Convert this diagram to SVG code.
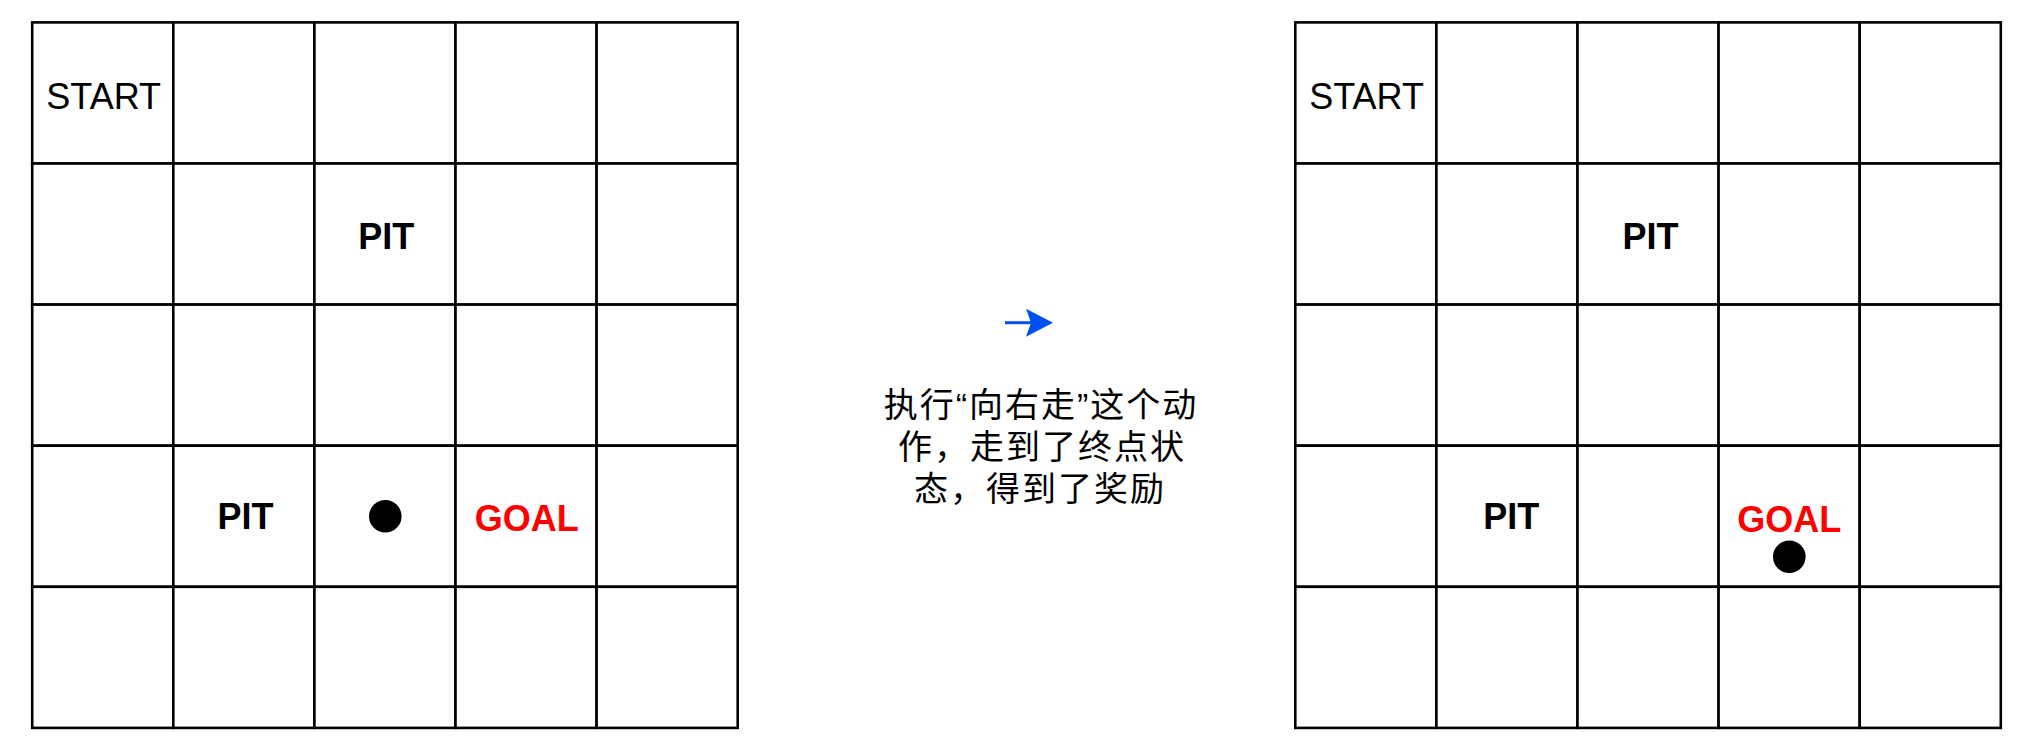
<svg xmlns="http://www.w3.org/2000/svg" width="2024" height="754" viewBox="0 0 2024 754">
<defs>
<style>
.cell{fill:#fff;stroke:#000;stroke-width:2.6}
.lbl{font-family:"Liberation Sans",Arial,sans-serif;font-size:36px;fill:#000;text-anchor:middle}
.bold{font-weight:bold;font-size:36px}
.goal{fill:#ff0000}
.agent{fill:#000}
.cn{font-family:"Liberation Sans","Noto Sans CJK SC",sans-serif;font-size:34px;font-weight:400;letter-spacing:2px;fill:#000;text-anchor:middle}
.conn{stroke:#0050ef;stroke-width:3;fill:none}
</style>
<marker id="arrowhead" markerUnits="userSpaceOnUse" viewBox="0 0 27 28" markerWidth="27" markerHeight="28" refX="5" refY="14" orient="auto">
<path d="M0,0 L27,14 L0,28 L5,14 Z" fill="#0050ef"/>
</marker>
</defs>
<rect width="2024" height="754" fill="#fff"/>

<g id="grid-before">
<rect class="cell" x="32.2" y="22.4" width="141.1" height="141.1"/>
<rect class="cell" x="173.3" y="22.4" width="141.1" height="141.1"/>
<rect class="cell" x="314.4" y="22.4" width="141.1" height="141.1"/>
<rect class="cell" x="455.5" y="22.4" width="141.1" height="141.1"/>
<rect class="cell" x="596.6" y="22.4" width="141.1" height="141.1"/>
<rect class="cell" x="32.2" y="163.5" width="141.1" height="141.1"/>
<rect class="cell" x="173.3" y="163.5" width="141.1" height="141.1"/>
<rect class="cell" x="314.4" y="163.5" width="141.1" height="141.1"/>
<rect class="cell" x="455.5" y="163.5" width="141.1" height="141.1"/>
<rect class="cell" x="596.6" y="163.5" width="141.1" height="141.1"/>
<rect class="cell" x="32.2" y="304.6" width="141.1" height="141.1"/>
<rect class="cell" x="173.3" y="304.6" width="141.1" height="141.1"/>
<rect class="cell" x="314.4" y="304.6" width="141.1" height="141.1"/>
<rect class="cell" x="455.5" y="304.6" width="141.1" height="141.1"/>
<rect class="cell" x="596.6" y="304.6" width="141.1" height="141.1"/>
<rect class="cell" x="32.2" y="445.7" width="141.1" height="141.1"/>
<rect class="cell" x="173.3" y="445.7" width="141.1" height="141.1"/>
<rect class="cell" x="314.4" y="445.7" width="141.1" height="141.1"/>
<rect class="cell" x="455.5" y="445.7" width="141.1" height="141.1"/>
<rect class="cell" x="596.6" y="445.7" width="141.1" height="141.1"/>
<rect class="cell" x="32.2" y="586.8" width="141.1" height="141.1"/>
<rect class="cell" x="173.3" y="586.8" width="141.1" height="141.1"/>
<rect class="cell" x="314.4" y="586.8" width="141.1" height="141.1"/>
<rect class="cell" x="455.5" y="586.8" width="141.1" height="141.1"/>
<rect class="cell" x="596.6" y="586.8" width="141.1" height="141.1"/>
</g>
<g id="before-start"><text class="lbl" x="103.7" y="109">START</text></g>
<g id="before-pit1"><text class="lbl bold" x="386.3" y="248.5">PIT</text></g>
<g id="before-pit2"><text class="lbl bold" x="245.5" y="528.5">PIT</text></g>
<g id="before-goal"><text class="lbl bold goal" x="526.7" y="531">GOAL</text></g>
<g id="before-agent"><circle class="agent" cx="385.3" cy="516.3" r="16.3"/></g>

<g id="grid-after">
<rect class="cell" x="1295.3" y="22.4" width="141.1" height="141.1"/>
<rect class="cell" x="1436.4" y="22.4" width="141.1" height="141.1"/>
<rect class="cell" x="1577.5" y="22.4" width="141.1" height="141.1"/>
<rect class="cell" x="1718.6" y="22.4" width="141.1" height="141.1"/>
<rect class="cell" x="1859.7" y="22.4" width="141.1" height="141.1"/>
<rect class="cell" x="1295.3" y="163.5" width="141.1" height="141.1"/>
<rect class="cell" x="1436.4" y="163.5" width="141.1" height="141.1"/>
<rect class="cell" x="1577.5" y="163.5" width="141.1" height="141.1"/>
<rect class="cell" x="1718.6" y="163.5" width="141.1" height="141.1"/>
<rect class="cell" x="1859.7" y="163.5" width="141.1" height="141.1"/>
<rect class="cell" x="1295.3" y="304.6" width="141.1" height="141.1"/>
<rect class="cell" x="1436.4" y="304.6" width="141.1" height="141.1"/>
<rect class="cell" x="1577.5" y="304.6" width="141.1" height="141.1"/>
<rect class="cell" x="1718.6" y="304.6" width="141.1" height="141.1"/>
<rect class="cell" x="1859.7" y="304.6" width="141.1" height="141.1"/>
<rect class="cell" x="1295.3" y="445.7" width="141.1" height="141.1"/>
<rect class="cell" x="1436.4" y="445.7" width="141.1" height="141.1"/>
<rect class="cell" x="1577.5" y="445.7" width="141.1" height="141.1"/>
<rect class="cell" x="1718.6" y="445.7" width="141.1" height="141.1"/>
<rect class="cell" x="1859.7" y="445.7" width="141.1" height="141.1"/>
<rect class="cell" x="1295.3" y="586.8" width="141.1" height="141.1"/>
<rect class="cell" x="1436.4" y="586.8" width="141.1" height="141.1"/>
<rect class="cell" x="1577.5" y="586.8" width="141.1" height="141.1"/>
<rect class="cell" x="1718.6" y="586.8" width="141.1" height="141.1"/>
<rect class="cell" x="1859.7" y="586.8" width="141.1" height="141.1"/>
</g>
<g id="after-start"><text class="lbl" x="1366.6" y="109">START</text></g>
<g id="after-pit1"><text class="lbl bold" x="1650.5" y="248.5">PIT</text></g>
<g id="after-pit2"><text class="lbl bold" x="1511.2" y="528.5">PIT</text></g>
<g id="after-goal"><text class="lbl bold goal" x="1789.3" y="531.5">GOAL</text></g>
<g id="after-agent"><circle class="agent" cx="1789.3" cy="556.7" r="16.3"/></g>

<g id="connectors">
<line class="conn" x1="1005" y1="322.7" x2="1031" y2="322.7" marker-end="url(#arrowhead)"/>
</g>
<g id="caption">
<text class="cn" x="1041" y="417">执行“向右走”这个动</text>
<text class="cn" x="1042" y="459">作，走到了终点状</text>
<text class="cn" x="1040" y="501">态，得到了奖励</text>
</g>
</svg>
